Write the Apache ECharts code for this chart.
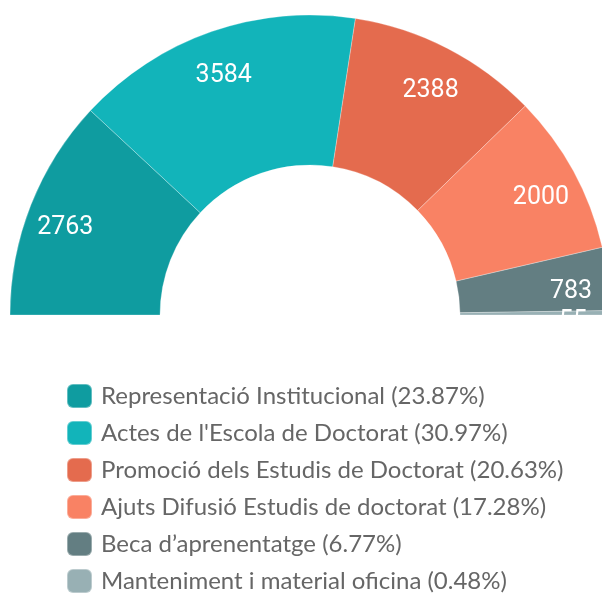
<!DOCTYPE html>
<html>
<head>
<meta charset="utf-8">
<script src="https://cdn.jsdelivr.net/npm/echarts@6/dist/echarts.min.js"></script>
<style>
html,body{margin:0;padding:0;background:#fff;}
#chart{width:602px;height:594px;}
</style>
</head>
<body>
<div id="chart"></div>
<script>
var categories = [
  "Representació Institucional",
  "Actes de l'Escola de Doctorat",
  "Promoció dels Estudis de Doctorat",
  "Ajuts Difusió Estudis de doctorat",
  "Beca d’aprenentatge",
  "Manteniment i material oficina"
];
var values = [2763, 3584, 2388, 2000, 783, 55];
var colors = ["#0f9ca0", "#12b4ba", "#e46b4e", "#f98264", "#637e82", "#98b0b4"];

var total = values.reduce(function (a, b) { return a + b; }, 0);
var pct = {};
categories.forEach(function (c, i) { pct[c] = (values[i] / total * 100).toFixed(2); });

var mainData = categories.map(function (c, i) {
  return { name: c, value: values[i], itemStyle: { color: colors[i] } };
});
var labelData = categories.map(function (c, i) {
  return { name: c, value: values[i] };
});

var chart = echarts.init(document.getElementById('chart'), null, { renderer: 'canvas' });
chart.setOption({
  animation: false,
  backgroundColor: '#ffffff',
  legend: {
    orient: 'vertical',
    left: 66,
    top: 383,
    height: 240,
    padding: 0,
    itemWidth: 25,
    itemHeight: 24,
    itemGap: 11,
    icon: 'roundRect',
    data: categories,
    formatter: function (name) { return name + ' (' + pct[name] + '%)'; },
    textStyle: {
      fontFamily: 'Lato',
      fontSize: 24,
      lineHeight: 24,
      color: '#666666',
      padding: [0, 0, 0, 4]
    }
  },
  series: [
    {
      type: 'pie',
      center: [310, 315],
      radius: [150, 300],
      startAngle: 180,
      endAngle: 360,
      avoidLabelOverlap: false,
      itemStyle: { borderColor: 'rgba(255,255,255,0.35)', borderWidth: 0.8 },
      label: { show: false },
      labelLine: { show: false },
      emphasis: { disabled: true },
      data: mainData
    },
    {
      type: 'pie',
      silent: true,
      center: [310, 315],
      radius: [220, 300],
      startAngle: 180,
      endAngle: 360,
      avoidLabelOverlap: false,
      itemStyle: { color: 'rgba(0,0,0,0)' },
      label: {
        show: true,
        position: 'inside',
        formatter: '{c}',
        color: '#ffffff',
        fontFamily: 'Roboto',
        fontSize: 25,
        fontWeight: 'normal',
        offset: [0, 9]
      },
      labelLine: { show: false },
      emphasis: { disabled: true },
      data: labelData
    }
  ],
  graphic: [
    {
      type: 'rect',
      left: 0,
      top: 316,
      z: 100,
      shape: { width: 602, height: 50 },
      style: { fill: '#ffffff' },
      silent: true
    }
  ]
});
</script>
</body>
</html>
